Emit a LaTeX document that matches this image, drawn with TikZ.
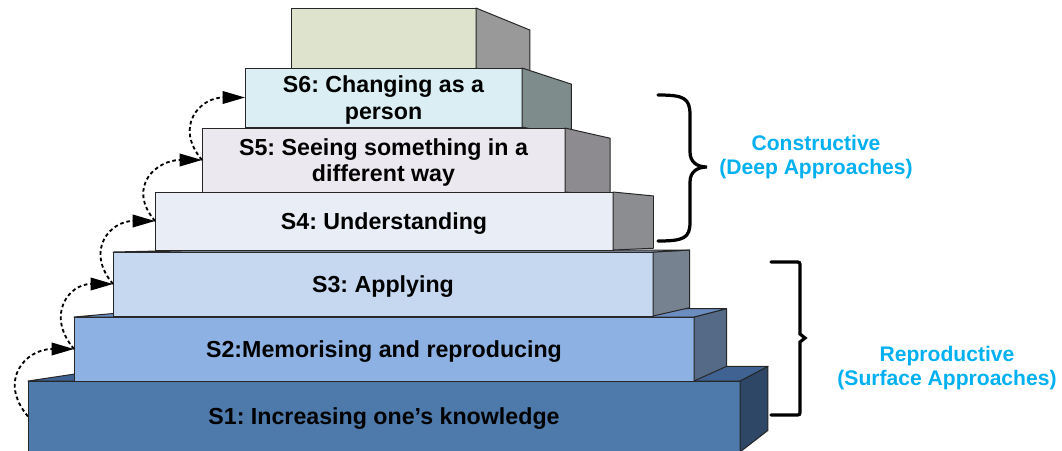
\documentclass[tikz,border=0pt]{standalone}
\usepackage{fontspec}
\setmainfont{Liberation Sans}
\frenchspacing
\usetikzlibrary{calc,arrows.meta}

\definecolor{topfront}{HTML}{DDE3CD} \definecolor{topside}{HTML}{999999}
\definecolor{sixfront}{HTML}{DAEEF3} \definecolor{sixside}{HTML}{7F8C8C}
\definecolor{fivefront}{HTML}{ECE8F0} \definecolor{fiveside}{HTML}{8D8B90}
\definecolor{fourfront}{HTML}{E9EDF5} \definecolor{fourside}{HTML}{8B8D90}
\definecolor{threefront}{HTML}{C6D8F0} \definecolor{threeside}{HTML}{76828F} \definecolor{threetop}{HTML}{9AAAC0}
\definecolor{twofront}{HTML}{8DB1E3} \definecolor{twoside}{HTML}{556A86} \definecolor{twotop}{HTML}{6C8DC0}
\definecolor{onefront}{HTML}{4E79AB} \definecolor{oneside}{HTML}{2E4767} \definecolor{onetop}{HTML}{3F6292}
\definecolor{approachblue}{HTML}{00B0F0}

\begin{document}
\begin{tikzpicture}[x=0.025cm, y=-0.025cm,
	stage/.style 2 args={draw=black!85, line width=0.7pt, inner sep=0pt, outer sep=0pt,
		minimum width=#1*0.025cm, minimum height=#2*0.025cm, align=center, text depth=0pt,
		font=\fontsize{16.5}{19}\selectfont\bfseries},
	face/.style={draw=black!85, line width=0.7pt, line join=round},
	climb/.style={line width=1.3pt, dash pattern=on 2.6pt off 2pt,
		-{Triangle[length=16pt,width=9pt]}, out=130, in=180, looseness=1.5},
	bracket/.style={line width=2.3pt, line cap=round},
	approach/.style={text=approachblue, align=center, font=\fontsize{15}{16.5}\selectfont\bfseries}]
	\useasboundingbox (0,0) rectangle (1062,450);

	% everything recedes towards one point
	\coordinate (vp) at (1024,232);
	\newcommand{\recede}{0.0985}
	\newcommand{\sideface}[2]{\filldraw[face, fill=#2] (#1.north east) -- ($(#1.north east)!\recede!(vp)$)
		-- ($(#1.south east)!\recede!(vp)$) -- (#1.south east) -- cycle;}
	\newcommand{\topface}[2]{\filldraw[face, fill=#2] (#1.north west) -- ($(#1.north west)!\recede!(vp)$)
		-- ($(#1.north east)!\recede!(vp)$) -- (#1.north east) -- cycle;}

	% lower steps, seen from above
	\node[stage={712}{71}, fill=onefront] (s1) at (384,416.5) {S1: Increasing one’s knowledge};
	\sideface{s1}{oneside} \topface{s1}{onetop}
	\node[stage={620}{64}, fill=twofront] (s2) at (384,349) {S2:Memorising and reproducing};
	\sideface{s2}{twoside} \topface{s2}{twotop}
	\node[stage={540}{64}, fill=threefront] (s3) at (383,284) {S3: Applying};
	\sideface{s3}{threeside} \topface{s3}{threetop}

	% upper steps, seen from below
	\node[stage={185}{60}, fill=topfront] (s7) at (383.5,38) {};
	\sideface{s7}{topside}
	\node[stage={277}{59}, fill=sixfront] (s6) at (383.5,97.5) {S6: Changing as a\\person};
	\sideface{s6}{sixside}
	\node[stage={363}{64}, fill=fivefront] (s5) at (383.5,160) {S5: Seeing something in a\\different way};
	\sideface{s5}{fiveside}
	\node[stage={458}{58}, fill=fourfront] (s4) at (384,221) {S4: Understanding};
	\sideface{s4}{fourside}

	% climbing arrows
	\draw[climb] (s1.west) to (s2.west);
	\draw[climb] (s2.west) to (s3.west);
	\draw[climb] (s3.west) to (s4.west);
	\draw[climb] (s4.west) to (s5.west);
	\draw[climb] (s5.west) to (s6.west);

	% braces
	\draw[bracket] (658,95) .. controls (684,95) and (690,98) .. (690,115) -- (690,152)
		.. controls (690,162) and (697,167) .. (707,167) .. controls (697,167) and (690,172) .. (690,182)
		-- (690,222) .. controls (690,238) and (684,241) .. (658,241);
	\draw[bracket] (771,262) -- (795,262) .. controls (800,262) .. (800,267) -- (800,334) -- (805,338)
		-- (800,342) -- (800,410) .. controls (800,415) .. (795,415) -- (771,415);
	\node[approach] (deep) at (816,157) {Constructive\\(Deep Approaches)};
	\node[approach] (surface) at (947,368) {Reproductive\\(Surface Approaches)};

\end{tikzpicture}
\end{document}
